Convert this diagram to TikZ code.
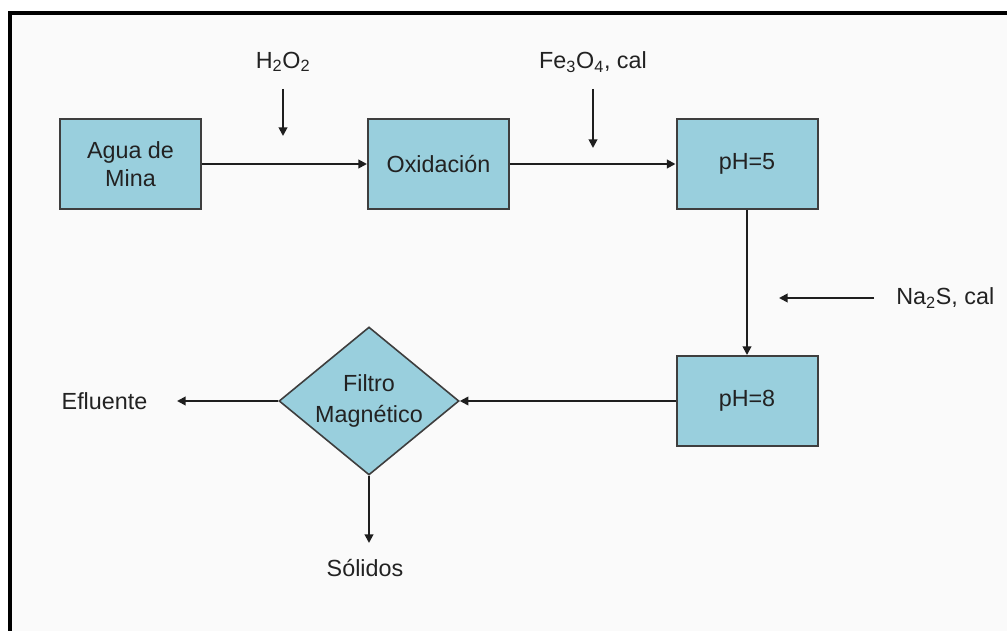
\documentclass[tikz,border=0pt]{standalone}
\usepackage{fontspec}
\setmainfont{Liberation Sans}
\usetikzlibrary{arrows.meta,shapes.geometric}

\definecolor{procfill}{RGB}{153,207,221}
\definecolor{procedge}{RGB}{62,62,62}
\definecolor{flowline}{RGB}{30,30,30}
\definecolor{labeltext}{RGB}{34,34,34}

\tikzset{
  procbox/.style={draw=procedge, line width=1.5pt, fill=procfill,
    minimum width=105.75pt, minimum height=67.5pt, inner sep=0pt,
    align=center, text=labeltext},
  filterbox/.style={draw=procedge, line width=1.2pt, fill=procfill,
    diamond, aspect=1.216, minimum width=135pt, minimum height=111pt,
    inner sep=0pt, align=center, text=labeltext},
  streamlabel/.style={inner sep=0pt, text=labeltext},
  flow/.style={draw=flowline, line width=1.4pt,
    -{Triangle[length=6.5pt,width=6.5pt]}},
}

\begin{document}
\begin{tikzpicture}[x=0.75pt, y=-0.75pt,
  font=\fontsize{17.5pt}{21pt}\selectfont]
  \useasboundingbox (0,0) rectangle (1007,631);
  \fill[white] (0,0) rectangle (1007,631);
  \fill[white!98!black] (10,13) rectangle (1007,631);

  % frame along the top and left edges
  \draw[line width=2.3pt, line join=miter] (1007,13) -- (10,13) -- (10,631);

  % process units
  \node[procbox] (agua) at (130.5,164) {Agua de\\Mina};
  \node[procbox] (oxid) at (438.5,164) {Oxidación};
  \node[procbox] (ph5)  at (747,164)   {pH=5};
  \node[procbox] (ph8)  at (747,401)   {pH=8};
  \node[filterbox, font=\fontsize{17.5pt}{23pt}\selectfont] (filtro) at (369,401)
    {Filtro\\Magnético};

  % reagent and product labels
  \node[streamlabel] (h2o2) at (283,62) {H\textsubscript{2}O\textsubscript{2}};
  \node[streamlabel] (fe3o4) at (593,62) {Fe\textsubscript{3}O\textsubscript{4}, cal};
  \node[streamlabel, anchor=west] (na2s) at (896,298) {Na\textsubscript{2}S, cal};
  \node[streamlabel] (efluente) at (104.5,401) {Efluente};
  \node[streamlabel] (solidos) at (365,568) {Sólidos};

  % free ends of the dosing and discharge arrows
  \coordinate (h2o2top) at (283,89);
  \coordinate (h2o2tip) at (283,136);
  \coordinate (fe3o4top) at (593,89);
  \coordinate (fe3o4tip) at (593,148);
  \coordinate (na2sstart) at (874,298);
  \coordinate (na2stip) at (779,298);
  \coordinate (efltip) at (177,401);
  \coordinate (soltip) at (369,543);

  % main process line
  \draw[flow] (agua) -- (oxid);
  \draw[flow] (oxid) -- (ph5);
  \draw[flow] (ph5) -- (ph8);
  \draw[flow] (ph8) -- (filtro);
  \draw[flow] (filtro.west) -- (efltip);
  \draw[flow] (filtro.south) -- (soltip);

  % reagent dosing
  \draw[flow] (h2o2top) -- (h2o2tip);
  \draw[flow] (fe3o4top) -- (fe3o4tip);
  \draw[flow] (na2sstart) -- (na2stip);
\end{tikzpicture}
\end{document}
